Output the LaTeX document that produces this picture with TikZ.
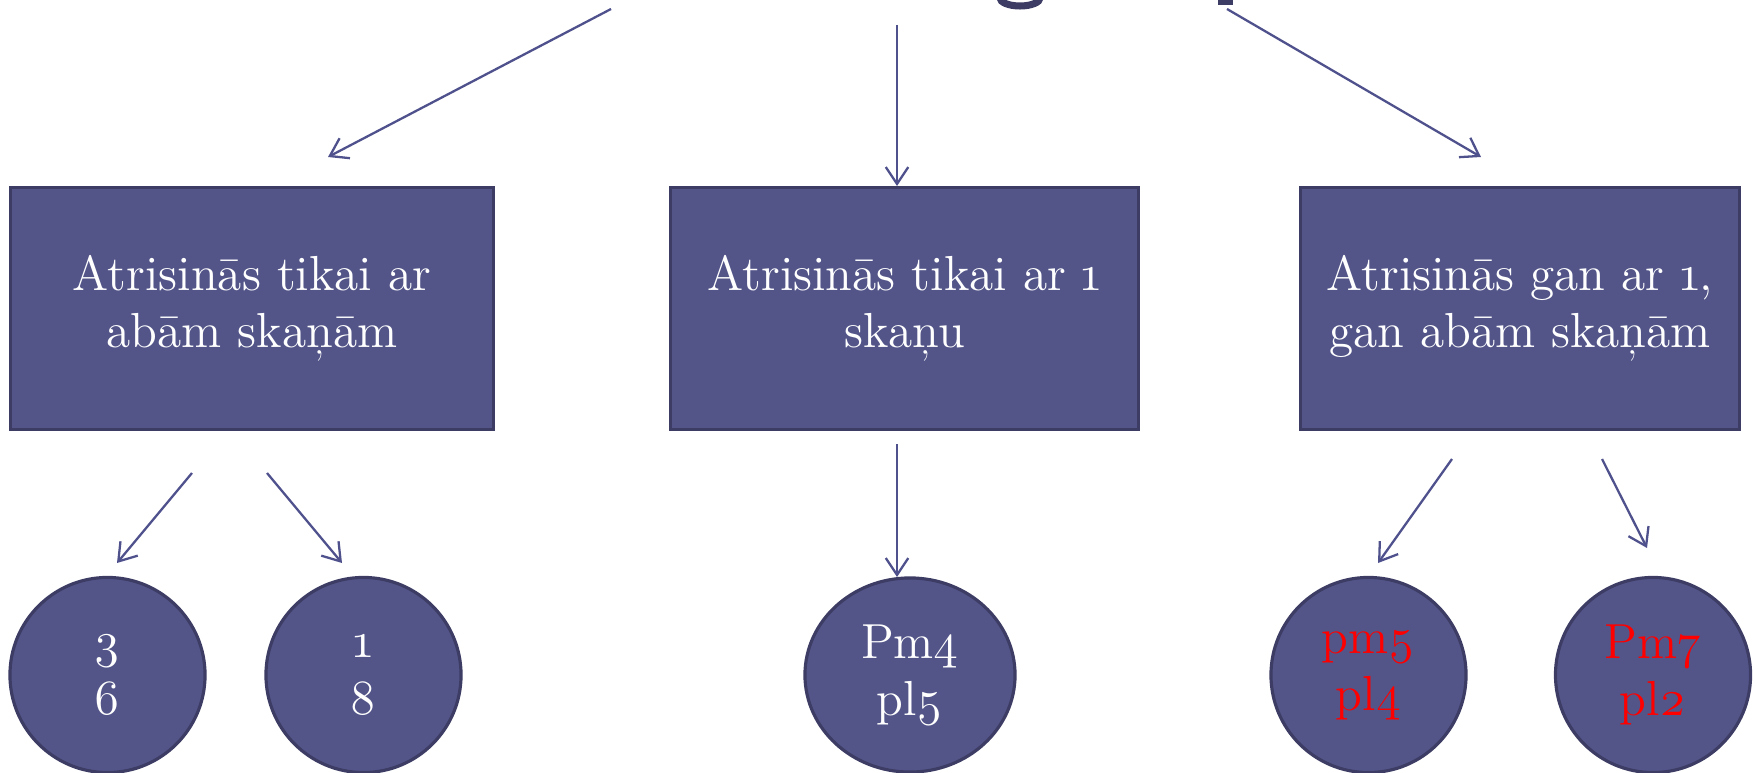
\documentclass[tikz,border=0pt]{standalone}
\usepackage{fontspec}
\setmainfont{Latin Modern Roman}[Numbers=OldStyle]
\usetikzlibrary{arrows.meta,shapes.geometric,positioning,calc}
\definecolor{boxfill}{RGB}{83,85,137}
\definecolor{boxline}{RGB}{60,60,100}
\definecolor{arrline}{RGB}{79,81,140}

\begin{document}
\begin{tikzpicture}
[x=0.01cm,y=-0.01cm,
    grp/.style={draw=boxline,fill=boxfill,line width=.8pt,shape=rectangle,
    minimum height=2.42cm,text=white,align=center,inner sep=0pt,
    font=\fontsize{14}{16.2}\selectfont},
    leaf/.style={draw=boxline,fill=boxfill,line width=.9pt,shape=circle,
    minimum size=1.95cm,text=white,align=center,inner sep=0pt,
    font=\fontsize{14}{16.2}\selectfont},
    hot/.style={text=red},
    myedge/.style={-{Straight Barb[length=4.8pt,width=6.4pt]},draw=arrline,
    line width=.65pt}]
\useasboundingbox (0,0) rectangle (1758,773);
%%%%%%%%%%
%% cut-off title above
\draw[boxline,line width=2pt] (1000,-2) arc[start angle=180,end angle=0,x radius=20,y radius=8];
\fill[boxline] (1218,0) rectangle (1233,5);
%% groups
\node (g1) [grp,minimum width=4.83cm] at (252,308.5) {Atrisinās tikai ar\\abām skaņām};
\node (g2) [grp,minimum width=4.67cm] at (904.5,308.5) {Atrisinās tikai ar 1\\skaņu};
\node (g3) [grp,minimum width=4.39cm] at (1520,308.5) {Atrisinās gan ar 1,\\gan abām skaņām};
%% leaves
\node (l1) [leaf] at (107.5,675) {3\\6};
\node (l2) [leaf] at (363.5,675) {1\\8};
\node (l3) [leaf,shape=ellipse,minimum width=2.1cm,minimum height=1.94cm] at (910,675) {Pm4\\pl5};
\node (l4) [leaf,hot] at (1368.5,675) {pm5\\pl4};
\node (l5) [leaf,hot] at (1653,675) {Pm7\\pl2};
%% arrow ends
\coordinate (t1) at (611,9);    \coordinate (h1) at (328,157);
\coordinate (t2) at (897,25);   \coordinate (h2) at (897,186);
\coordinate (t3) at (1227,9);   \coordinate (h3) at (1481,157);
\coordinate (t4) at (192,473);  \coordinate (h4) at (117,563);
\coordinate (t5) at (267,473);  \coordinate (h5) at (342,563);
\coordinate (t6) at (897,444);  \coordinate (h6) at (897,577);
\coordinate (t7) at (1452,459); \coordinate (h7) at (1378,563);
\coordinate (t8) at (1602,459); \coordinate (h8) at (1647,548);
%% edges
\foreach \i in {1,...,8}
  \draw[myedge] (t\i) -- (h\i);
\end{tikzpicture}
\end{document}
